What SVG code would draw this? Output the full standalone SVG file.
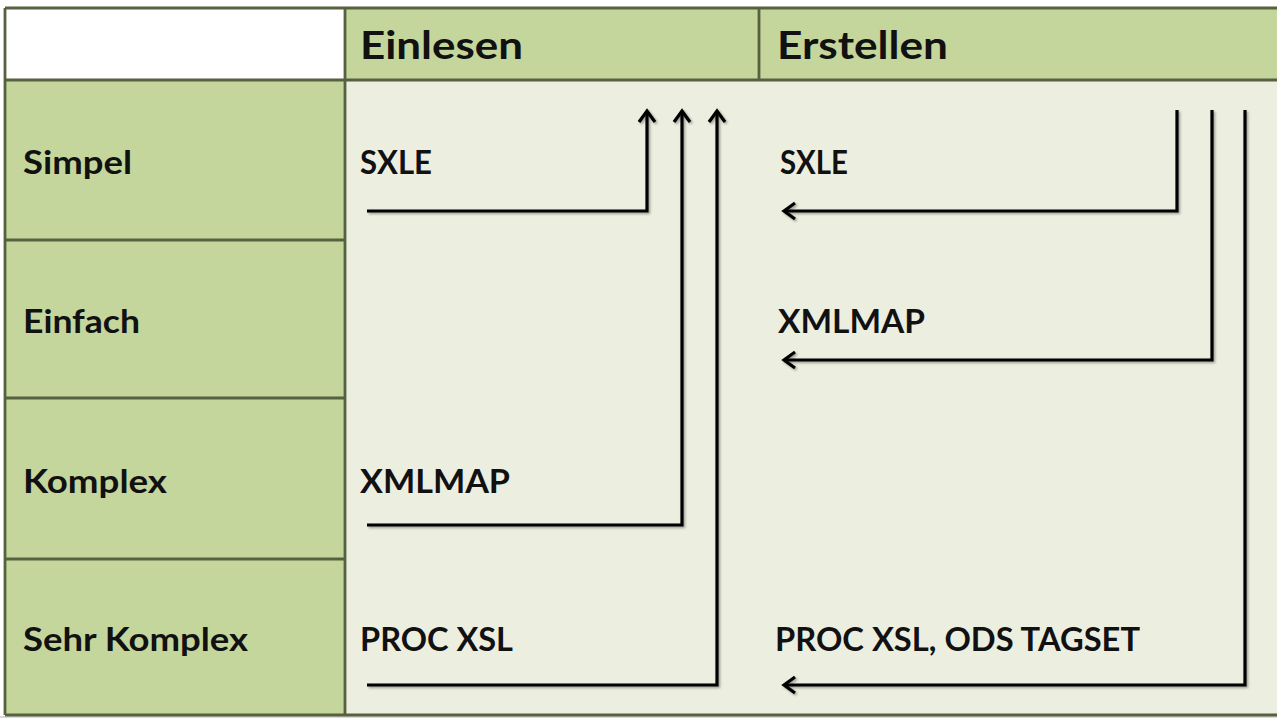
<svg xmlns="http://www.w3.org/2000/svg" width="1277" height="718" viewBox="0 0 1277 718">
  <style>
    .green { fill: #C4D69C; }
    .body { fill: #ECEEE0; }
    .grid { stroke: #56613F; stroke-width: 2.8; fill: none; }
    .hdr { font-family: Lato, "Open Sans", "Liberation Sans", sans-serif; font-weight: bold; font-size: 39px; fill: #111; }
    .lbl { font-family: Lato, "Open Sans", "Liberation Sans", sans-serif; font-weight: bold; font-size: 32px; fill: #111; }
    .conn { stroke: #000; stroke-width: 3.2; fill: none; stroke-linejoin: miter; }
  </style>
  <defs>
    <marker id="arr" markerUnits="userSpaceOnUse" markerWidth="20" markerHeight="20" refX="14" refY="10" orient="auto" overflow="visible">
      <path d="M3,2 L14,10 L3,18" fill="none" stroke="#000" stroke-width="3.2" stroke-linejoin="miter"/>
    </marker>
    <filter id="sh" x="-5%" y="-5%" width="110%" height="110%">
      <feDropShadow dx="1.5" dy="1.5" stdDeviation="1.2" flood-color="#000" flood-opacity="0.35"/>
    </filter>
  </defs>

  <rect x="0" y="0" width="1277" height="718" fill="#ffffff"/>

  <g id="background">
    <rect x="5" y="8" width="340" height="72" fill="#ffffff"/>
    <rect x="345" y="8" width="932" height="72" class="green"/>
    <rect x="5" y="80" width="340" height="635" class="green"/>
    <rect x="345" y="80" width="932" height="635" class="body"/>
    <rect x="0" y="716" width="1277" height="2" fill="#d8d8d8"/>
  </g>

  <g id="grid">
    <line x1="5" y1="8" x2="1277" y2="8" class="grid"/>
    <line x1="5" y1="80" x2="1277" y2="80" class="grid"/>
    <line x1="5" y1="715" x2="1277" y2="715" class="grid"/>
    <line x1="5" y1="8" x2="5" y2="715" class="grid"/>
    <line x1="345" y1="8" x2="345" y2="715" class="grid"/>
    <line x1="759" y1="8" x2="759" y2="80" class="grid"/>
    <line x1="5" y1="240" x2="345" y2="240" class="grid"/>
    <line x1="5" y1="398" x2="345" y2="398" class="grid"/>
    <line x1="5" y1="559" x2="345" y2="559" class="grid"/>
  </g>

  <g id="header-einlesen"><text x="360" y="59" class="hdr" textLength="163" lengthAdjust="spacingAndGlyphs">Einlesen</text></g>
  <g id="header-erstellen"><text x="777" y="59" class="hdr" textLength="171" lengthAdjust="spacingAndGlyphs">Erstellen</text></g>

  <g id="row-simpel"><text x="23" y="174" class="lbl" textLength="109" lengthAdjust="spacingAndGlyphs">Simpel</text></g>
  <g id="row-einfach"><text x="23" y="333" class="lbl" textLength="117" lengthAdjust="spacingAndGlyphs">Einfach</text></g>
  <g id="row-komplex"><text x="23" y="493" class="lbl" textLength="144" lengthAdjust="spacingAndGlyphs">Komplex</text></g>
  <g id="row-sehr-komplex"><text x="23" y="651" class="lbl" textLength="225" lengthAdjust="spacingAndGlyphs">Sehr Komplex</text></g>

  <g id="einlesen-sxle"><text x="360" y="174" class="lbl" textLength="72" lengthAdjust="spacingAndGlyphs">SXLE</text></g>
  <g id="einlesen-xmlmap"><text x="360" y="493" class="lbl" textLength="150" lengthAdjust="spacingAndGlyphs">XMLMAP</text></g>
  <g id="einlesen-procxsl"><text x="360" y="651" class="lbl" textLength="153" lengthAdjust="spacingAndGlyphs">PROC XSL</text></g>

  <g id="erstellen-sxle"><text x="780" y="174" class="lbl" textLength="68" lengthAdjust="spacingAndGlyphs">SXLE</text></g>
  <g id="erstellen-xmlmap"><text x="778" y="333" class="lbl" textLength="147" lengthAdjust="spacingAndGlyphs">XMLMAP</text></g>
  <g id="erstellen-procxsl"><text x="775" y="651" class="lbl" textLength="365" lengthAdjust="spacingAndGlyphs">PROC XSL, ODS TAGSET</text></g>

  <g id="connectors" filter="url(#sh)">
    <polyline class="conn" points="367,211 647,211 647,111" marker-end="url(#arr)"/>
    <polyline class="conn" points="367,525 682,525 682,111" marker-end="url(#arr)"/>
    <polyline class="conn" points="367,685 717,685 717,111" marker-end="url(#arr)"/>
    <polyline class="conn" points="1177,110 1177,211 784,211" marker-end="url(#arr)"/>
    <polyline class="conn" points="1212,110 1212,360 784,360" marker-end="url(#arr)"/>
    <polyline class="conn" points="1245,110 1245,685 784,685" marker-end="url(#arr)"/>
  </g>
</svg>
